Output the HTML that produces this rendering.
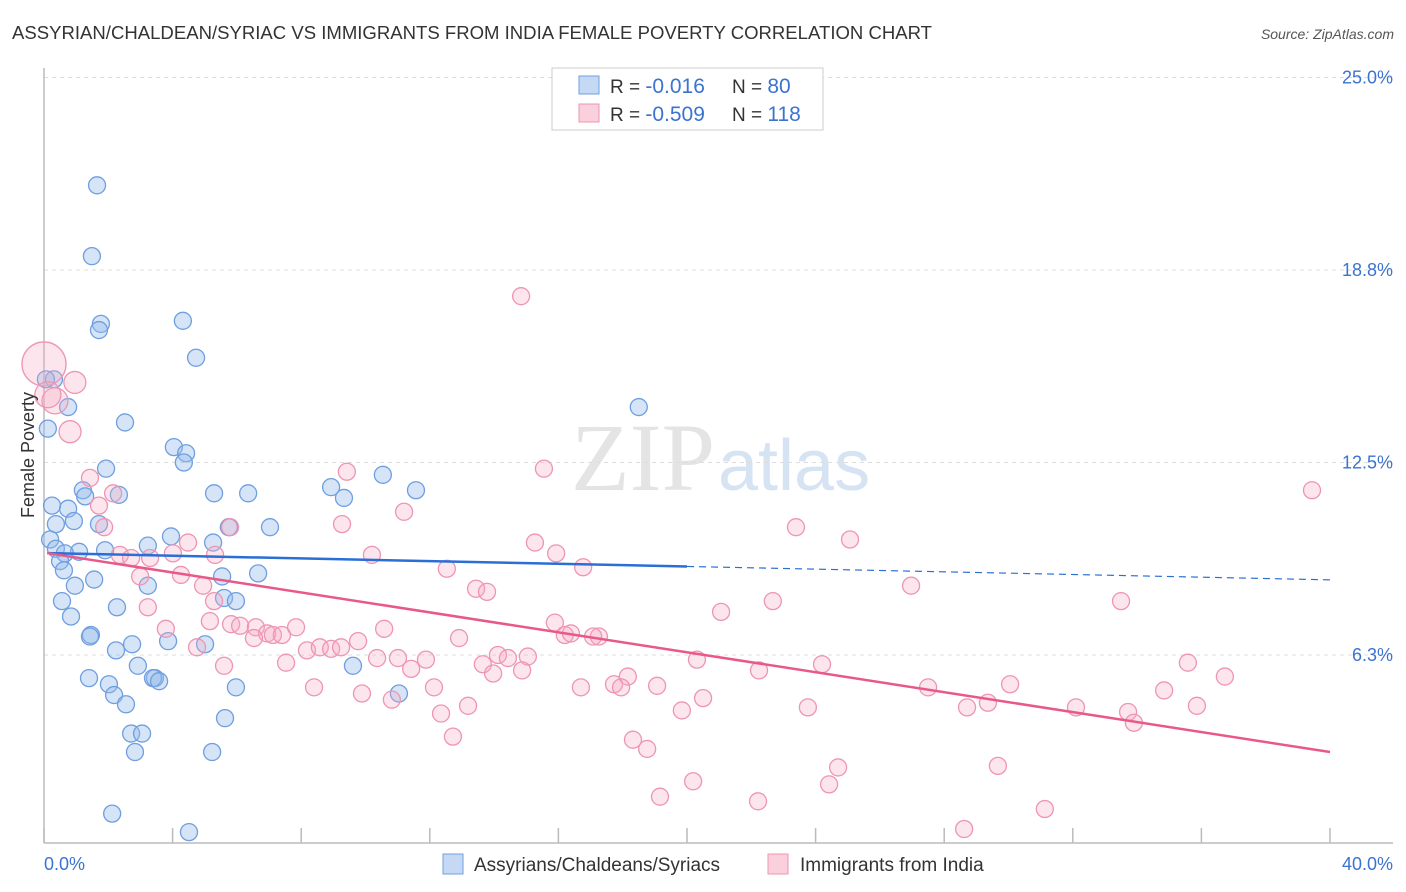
<!DOCTYPE html>
<html><head><meta charset="utf-8"><style>
body{margin:0;background:#fff;font-family:"Liberation Sans",sans-serif}
svg{display:block}
</style></head><body>
<svg id="c" width="1406" height="892" xmlns="http://www.w3.org/2000/svg">
<text x="12" y="39" font-size="18" fill="#333" textLength="920" lengthAdjust="spacingAndGlyphs">ASSYRIAN/CHALDEAN/SYRIAC VS IMMIGRANTS FROM INDIA FEMALE POVERTY CORRELATION CHART</text>
<text x="1394" y="39" font-size="14" fill="#555" font-style="italic" text-anchor="end">Source: ZipAtlas.com</text>
<text x="715" y="490" font-size="96" fill="#e4e4e4" text-anchor="end" font-family="Liberation Serif">ZIP</text>
<text x="718" y="490" font-size="72" fill="#d6e3f3">atlas</text>
<g id="grid"></g><g id="axes"></g><g id="pts"></g><g id="trend"></g>
<text x="34" y="455" font-size="18" fill="#333" text-anchor="middle" transform="rotate(-90 34 455)">Female Poverty</text>
<g>
<rect x="552" y="68" width="271" height="62" fill="#fff" stroke="#ccc"/>
<rect x="579" y="76" width="20" height="18" fill="#c5d9f4" stroke="#6f9fe0"/>
<rect x="579" y="104" width="20" height="18" fill="#fad0dd" stroke="#ee95b2"/>
<text x="610" y="93" font-size="19" fill="#333">R = <tspan fill="#3b73d1" font-size="21">-0.016</tspan><tspan x="732">N = </tspan><tspan fill="#3b73d1" font-size="21">80</tspan></text>
<text x="610" y="121" font-size="19" fill="#333">R = <tspan fill="#3b73d1" font-size="21">-0.509</tspan><tspan x="732">N = </tspan><tspan fill="#3b73d1" font-size="21">118</tspan></text>
</g>
<g>
<rect x="443" y="854" width="20" height="20" fill="#c5d9f4" stroke="#6f9fe0"/>
<text x="474" y="871" font-size="19" fill="#333">Assyrians/Chaldeans/Syriacs</text>
<rect x="768" y="854" width="20" height="20" fill="#fad0dd" stroke="#ee95b2"/>
<text x="800" y="871" font-size="19" fill="#333">Immigrants from India</text>
</g>
</svg>
<script>
const yTicks=[25,18.8,12.5,6.3];
const yTickVals=[25,18.75,12.5,6.25];
const xTickLabels=["0.0%","40.0%"];
const blueX=[1.65,1.49,1.77,1.71,4.32,4.73,0.75,18.5,2.52,0.12,4.04,4.42,4.35,1.93,10.54,8.93,11.57,5.29,6.35,9.33,1.21,1.28,2.33,0.25,0.75,0.93,1.71,0.37,5.75,7.03,0.19,0.37,1.09,0.65,1.9,3.23,3.95,5.26,0.5,0.62,5.54,6.66,1.56,0.96,3.23,5.6,5.97,0.56,2.27,0.84,3.86,1.46,1.43,5.01,2.24,2.74,2.92,9.61,1.4,2.02,3.45,3.39,3.58,5.97,2.18,2.55,11.04,5.63,2.71,3.05,2.83,5.23,2.12,4.51,0.31,0.06];
const blueY=[21.5,19.2,17.0,16.8,17.1,15.9,14.3,14.3,13.8,13.6,13.0,12.8,12.5,12.3,12.1,11.7,11.6,11.5,11.5,11.35,11.6,11.4,11.45,11.1,11.0,10.6,10.5,10.5,10.4,10.4,10.0,9.7,9.6,9.55,9.65,9.8,10.1,9.9,9.3,9.0,8.8,8.9,8.7,8.5,8.5,8.1,8.0,8.0,7.8,7.5,6.7,6.9,6.85,6.6,6.4,6.6,5.9,5.9,5.5,5.3,5.5,5.5,5.4,5.2,4.95,4.65,5.0,4.2,3.7,3.7,3.1,3.1,1.1,0.5,15.2,15.2];
const pinkX=[0,0.96,0.34,0.81,0.12,14.84,15.55,9.42,39.44,1.43,2.15,11.2,1.71,1.87,5.79,9.27,23.39,15.27,15.93,25.07,4.48,4.01,5.32,2.36,2.71,3.3,10.2,12.53,16.77,2.99,4.26,4.95,13.44,13.78,26.97,5.29,33.5,22.67,3.23,21.06,3.79,5.82,5.16,6.1,6.59,6.94,7.84,10.58,6.53,7.12,7.4,15.89,16.2,16.39,17.26,17.08,12.91,9.77,4.76,8.18,8.58,8.93,9.24,14.12,14.43,15.05,7.53,5.6,10.36,11.01,11.88,13.65,11.42,14.87,18.16,20.31,24.2,35.58,22.24,13.97,36.73,8.4,9.89,12.13,16.7,17.73,17.95,19.07,27.5,30.05,34.84,10.82,20.5,13.19,23.76,28.71,29.36,32.1,35.86,12.35,19.84,33.72,33.9,12.72,18.32,18.76,24.7,29.67,20.19,24.42,19.16,22.21,31.13,28.62];
const pinkY=[15.7,15.1,14.5,13.5,14.7,17.9,12.3,12.2,11.6,12.0,11.5,10.9,11.1,10.4,10.4,10.5,10.4,9.9,9.55,10.0,9.9,9.55,9.5,9.5,9.4,9.4,9.5,9.05,9.1,8.8,8.85,8.5,8.4,8.3,8.5,8.0,8.0,8.0,7.8,7.65,7.1,7.25,7.35,7.2,7.15,6.95,7.15,7.1,6.8,6.9,6.9,7.3,6.9,6.95,6.85,6.85,6.8,6.7,6.5,6.4,6.5,6.45,6.5,6.25,6.15,6.2,6.0,5.9,6.15,6.15,6.1,5.95,5.8,5.75,5.55,6.1,5.95,6.0,5.75,5.65,5.55,5.2,5.0,5.2,5.2,5.3,5.2,5.25,5.2,5.3,5.1,4.8,4.85,4.6,4.55,4.55,4.7,4.55,4.6,4.35,4.45,4.4,4.05,3.6,3.5,3.2,2.6,2.65,2.15,2.05,1.65,1.5,1.25,0.6];
const pinkR=[22,11,13,11,13];
const blueTrend=[9.56,8.69];
const pinkTrend=[9.56,3.10];
const blueSolidEnd=20;

const NS="http://www.w3.org/2000/svg";
const X=v=>44+v*(1286/40);
const Y=v=>847.5-v*30.8;
function mk(tag,attrs,parent){const e=document.createElementNS(NS,tag);for(const k in attrs)e.setAttribute(k,attrs[k]);document.getElementById(parent).appendChild(e);return e;}
yTickVals.forEach((v,i)=>{
  const l=mk('line',{x1:44,x2:1393,y1:Y(v),y2:Y(v),stroke:'#ddd','stroke-dasharray':'4,4'},'grid');
  
  
  const t=mk('text',{x:1393,y:Y(v)+6,'font-size':18,fill:'#3b73d1','text-anchor':'end'},'grid');
  t.textContent=yTicks[i].toFixed(1)+'%';
  
  
});
let a=mk('line',{x1:44,x2:44,y1:68,y2:843,stroke:'#bbb','stroke-width':1.5},'axes');


a=mk('line',{x1:44,x2:1393,y1:843,y2:843,stroke:'#bbb','stroke-width':1.5},'axes');


for(let i=0;i<=40;i+=4){
  const t=mk('line',{x1:X(i),x2:X(i),y1:828,y2:843,stroke:'#bbb','stroke-width':1.5},'axes');
  
  
}
let xl=mk('text',{x:44,y:870,'font-size':18,fill:'#3b73d1'},'axes');xl.textContent=xTickLabels[0];


xl=mk('text',{x:1393,y:870,'font-size':18,fill:'#3b73d1','text-anchor':'end'},'axes');xl.textContent=xTickLabels[1];


blueX.forEach((v,i)=>{
  const c=mk('circle',{cx:X(v),cy:Y(blueY[i]),r:8.5,fill:'rgba(150,188,236,0.4)',stroke:'#6f9fe0','stroke-width':1.3},'pts');
  
  
});
pinkX.forEach((v,i)=>{
  const c=mk('circle',{cx:X(v),cy:Y(pinkY[i]),r:pinkR[i]||8.5,fill:'rgba(246,170,196,0.3)',stroke:'#ee95b2','stroke-width':1.3},'pts');
  
  
});
const bt=v=>blueTrend[0]+(blueTrend[1]-blueTrend[0])*v/40;
let tl=mk('line',{x1:X(0.1),y1:Y(bt(0.1)),x2:X(blueSolidEnd),y2:Y(bt(blueSolidEnd)),stroke:'#2a6ed6','stroke-width':2.5},'trend');


tl=mk('line',{x1:X(blueSolidEnd),y1:Y(bt(blueSolidEnd)),x2:X(40),y2:Y(bt(40)),stroke:'#2a6ed6','stroke-width':1.2,'stroke-dasharray':'7,5'},'trend');


tl=mk('line',{x1:X(0.1),y1:Y(pinkTrend[0]),x2:X(40),y2:Y(pinkTrend[1]),stroke:'#e8598a','stroke-width':2.5},'trend');


</script>
</body></html>
